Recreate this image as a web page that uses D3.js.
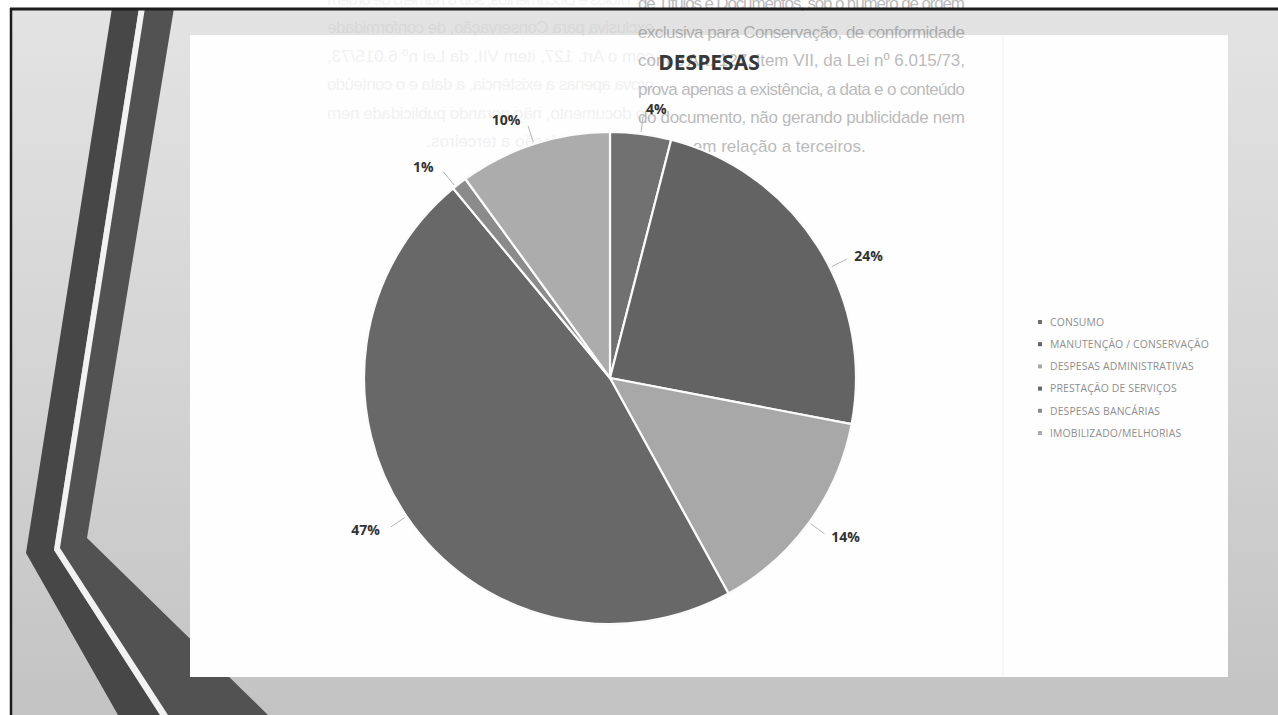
<!DOCTYPE html>
<html>
<head>
<meta charset="utf-8">
<script src="https://cdn.jsdelivr.net/npm/d3@7"></script>
<style>
  body { margin: 0; background: #fff; }
  svg { display: block; }
</style>
</head>
<body>
<div id="chart"></div>
<script>
// Chart data
const categories = [
  "CONSUMO",
  "MANUTENÇÃO / CONSERVAÇÃO",
  "DESPESAS ADMINISTRATIVAS",
  "PRESTAÇÃO DE SERVIÇOS",
  "DESPESAS BANCÁRIAS",
  "IMOBILIZADO/MELHORIAS"
];
const values = [4, 24, 14, 47, 1, 10];
const percentLabels = ["4%", "24%", "14%", "47%", "1%", "10%"];
const chartTitle = "DESPESAS";

// text showing through from the back of the scanned page
const bleedLines = [
  "de Títulos e Documentos, sob o número de ordem",
  "exclusiva para Conservação, de conformidade",
  "com o Art. 127, item VII, da Lei nº 6.015/73,",
  "prova apenas a existência, a data e o conteúdo",
  "do documento, não gerando publicidade nem",
  "efeitos em relação a terceiros."
];

const W = 1278, H = 715;

const svg = d3.select("#chart")
  .append("svg")
    .attr("width", W)
    .attr("height", H);

const defs = svg.append("defs");

const bg = defs.append("linearGradient")
    .attr("id", "slideBg")
    .attr("x1", 0).attr("y1", 0).attr("x2", 0).attr("y2", 1);
bg.append("stop").attr("offset", "0%").attr("stop-color", "#e3e3e3");
bg.append("stop").attr("offset", "55%").attr("stop-color", "#d3d3d3");
bg.append("stop").attr("offset", "100%").attr("stop-color", "#c3c3c3");

defs.append("clipPath").attr("id", "slideClip")
  .append("rect")
    .attr("x", 10).attr("y", 8)
    .attr("width", W - 10).attr("height", H - 8);

// page + slide background
svg.append("rect").attr("width", W).attr("height", H).attr("fill", "#fff");

const slide = svg.append("g").attr("clip-path", "url(#slideClip)");
slide.append("rect")
    .attr("x", 10).attr("y", 8)
    .attr("width", W - 10).attr("height", H - 8)
    .attr("fill", "url(#slideBg)");

// theme stripes on the left
const stripes = [
  { pts: [[112, 8], [139, 8], [54, 550], [160, 715], [118, 715], [26, 553]], fill: "#474747" },
  { pts: [[139, 8], [145, 8], [60, 548], [168, 715], [160, 715], [54, 550]], fill: "#f2f2f2" },
  { pts: [[145, 8], [174, 8], [87, 538], [268, 715], [168, 715], [60, 548]], fill: "#525252" }
];
slide.selectAll("polygon.stripe")
  .data(stripes)
  .enter()
  .append("polygon")
    .attr("class", "stripe")
    .attr("points", d => d.pts.map(p => p.join(",")).join(" "))
    .attr("fill", d => d.fill);

// white chart area
slide.append("rect")
    .attr("x", 190).attr("y", 35)
    .attr("width", 1038).attr("height", 642)
    .attr("fill", "#fefefe");
slide.append("line")
    .attr("x1", 1003).attr("x2", 1003)
    .attr("y1", 35).attr("y2", 677)
    .attr("stroke", "#f0f0f0");

// bleed-through text from the back of the page (drawn under the chart)
const bleed = svg.append("g")
    .attr("font-family", "Liberation Sans, Arial, sans-serif")
    .attr("font-size", 17)
    .attr("fill", "#555")
    .attr("opacity", 0.4);
bleed.selectAll("text")
  .data(bleedLines)
  .enter()
  .append("text")
    .attr("x", 638)
    .attr("y", (d, i) => 9 + i * 28.6)
    .attr("textLength", (d, i) => i === bleedLines.length - 1 ? null : 327)
    .attr("lengthAdjust", "spacing")
    .text(d => d);

// mirrored, fainter copy (from the other side of the sheet)
const mirror = svg.append("g")
    .attr("transform", "translate(654,-5) scale(-1,1)")
    .attr("font-family", "Liberation Sans, Arial, sans-serif")
    .attr("font-size", 17)
    .attr("fill", "#777")
    .attr("opacity", 0.09);
mirror.selectAll("text")
  .data(bleedLines)
  .enter()
  .append("text")
    .attr("x", 0)
    .attr("y", (d, i) => 10 + i * 28.4)
    .attr("textLength", (d, i) => i === bleedLines.length - 1 ? null : 327)
    .attr("lengthAdjust", "spacing")
    .text(d => d);

// frame of the scan
svg.append("line")
    .attr("x1", 10).attr("x2", W)
    .attr("y1", 9).attr("y2", 9)
    .attr("stroke", "#1c1c1c").attr("stroke-width", 3);
svg.append("line")
    .attr("x1", 11).attr("x2", 11)
    .attr("y1", 8).attr("y2", H)
    .attr("stroke", "#1c1c1c").attr("stroke-width", 2.5);

// Title
svg.append("text")
    .attr("x", 709)
    .attr("y", 70)
    .attr("text-anchor", "middle")
    .attr("font-family", "Open Sans, sans-serif")
    .attr("font-weight", "bold")
    .attr("font-size", 21)
    .attr("fill", "#383838")
    .text(chartTitle);

// Pie
const cx = 610, cy = 378, radius = 246;
const data = categories.map((c, i) => ({ name: c, value: values[i], label: percentLabels[i] }));

const color = d3.scaleOrdinal()
  .domain(categories)
  .range(["#717171", "#636363", "#a8a8a8", "#686868", "#8b8b8b", "#acacac"]);

// small angle nudges for labels that were dragged in the original
const labelNudge = { "24%": 0.1, "1%": -0.02 };

const pie = d3.pie().sort(null).value(d => d.value);
const arcs = pie(data);

const arc = d3.arc().innerRadius(0).outerRadius(radius);
const ring = r => d3.arc().innerRadius(r).outerRadius(r);
const edgeArc = ring(radius + 2);
const leadArc = ring(radius + 19);
const labelArc = ring(radius + 25);

// an arc datum shifted by the nudge angle, used only for label placement
const shifted = d => {
  const n = labelNudge[d.data.label] || 0;
  return { startAngle: d.startAngle + n, endAngle: d.endAngle + n };
};
const midAngle = d => (d.startAngle + d.endAngle) / 2;
const side = d => {
  const s = Math.sin(midAngle(shifted(d)));
  return s > 0.05 ? 1 : (s < -0.05 ? -1 : 0);
};

const g = svg.append("g").attr("transform", "translate(" + cx + "," + cy + ")");

g.selectAll("path.slice")
  .data(arcs)
  .enter()
  .append("path")
    .attr("class", "slice")
    .attr("d", arc)
    .attr("fill", d => color(d.data.name))
    .attr("stroke", "#fbfbfb")
    .attr("stroke-width", 2.2);

// leader lines
g.selectAll("line.leader")
  .data(arcs)
  .enter()
  .append("line")
    .attr("class", "leader")
    .attr("x1", d => edgeArc.centroid(shifted(d))[0])
    .attr("y1", d => edgeArc.centroid(shifted(d))[1])
    .attr("x2", d => leadArc.centroid(shifted(d))[0])
    .attr("y2", d => leadArc.centroid(shifted(d))[1])
    .attr("stroke", "#b5b5b5")
    .attr("stroke-width", 1);

g.selectAll("text.pct")
  .data(arcs)
  .enter()
  .append("text")
    .attr("class", "pct")
    .attr("x", d => labelArc.centroid(shifted(d))[0] + (side(d) < 0 ? -6 : side(d) > 0 ? 2 : 0))
    .attr("y", d => labelArc.centroid(shifted(d))[1])
    .attr("dy", "0.36em")
    .attr("text-anchor", d => side(d) > 0 ? "start" : (side(d) < 0 ? "end" : "middle"))
    .attr("font-family", "Open Sans, sans-serif")
    .attr("font-weight", "bold")
    .attr("font-size", 14)
    .attr("fill", "#333")
    .text(d => d.data.label);

// Legend
const ly = d3.scalePoint().domain(categories).range([322, 433]);
const legend = svg.append("g");
const item = legend.selectAll("g.item")
  .data(categories)
  .enter()
  .append("g")
    .attr("class", "item")
    .attr("transform", d => "translate(1040," + ly(d) + ")");
item.append("rect")
    .attr("x", -2).attr("y", -2)
    .attr("width", 4).attr("height", 4)
    .attr("fill", d => color(d));
item.append("text")
    .attr("x", 10)
    .attr("dy", "0.36em")
    .attr("font-family", "Open Sans, sans-serif")
    .attr("font-size", 10.4)
    .attr("letter-spacing", 0.15)
    .attr("fill", "#8e8e8e")
    .text(d => d);
</script>
</body>
</html>
